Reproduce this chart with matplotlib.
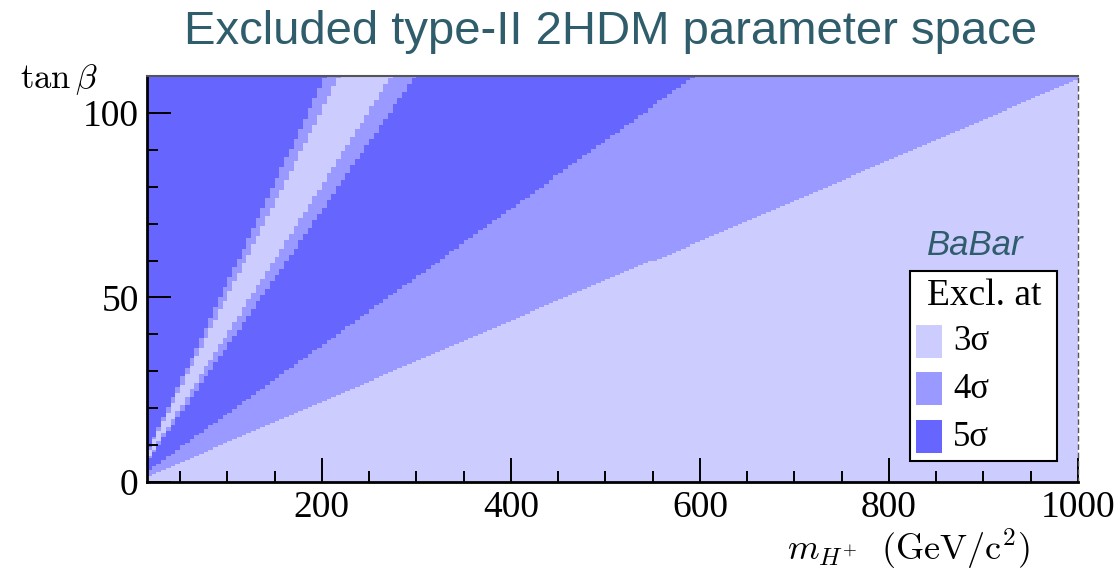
import numpy as np
import matplotlib.pyplot as plt
from matplotlib.colors import ListedColormap, BoundaryNorm
from matplotlib.patches import Rectangle

plt.rcParams['mathtext.fontset'] = 'cm'

# exclusion level as a function of tan(beta)/m_H+ (GeV^-1)
ratio_edges = [0.109, 0.185, 0.368, 0.402, 0.504, 0.540]
ratio_levels = [3, 4, 5, 4, 3, 4, 5]

# histogram binning of the scan
m_range = (15, 1000)
tanb_range = (0, 110)
n_mbins = 197
n_tbins = 200

sigma_levels = [3, 4, 5]
sigma_colors = ['#ccccff', '#9999ff', '#6666ff']
legend_labels = ['3σ', '4σ', '5σ']

W, H = 1118, 572
teal = '#2f5d6b'
serif = ['Liberation Serif', 'DejaVu Serif']

m_edges = np.linspace(m_range[0], m_range[1], n_mbins + 1)
t_edges = np.linspace(tanb_range[0], tanb_range[1], n_tbins + 1)
mc = 0.5 * (m_edges[1:] + m_edges[:-1])
tc = 0.5 * (t_edges[1:] + t_edges[:-1])
M, T = np.meshgrid(mc, tc)
Z = np.array(ratio_levels)[np.digitize(T / M, ratio_edges)]

fig = plt.figure(figsize=(W / 100, H / 100), dpi=100)
ax = fig.add_axes([147 / W, 1 - 482 / H, (1078 - 147) / W, (482 - 76) / H])

cmap = ListedColormap(sigma_colors)
norm = BoundaryNorm([2.5, 3.5, 4.5, 5.5], cmap.N)
ax.pcolormesh(m_edges, t_edges, Z, cmap=cmap, norm=norm, shading='flat')

ax.set_xlim(*m_range)
ax.set_ylim(*tanb_range)
ax.set_xticks([200, 400, 600, 800, 1000])
ax.set_xticks(np.arange(50, 1001, 50), minor=True)
ax.set_yticks([0, 50, 100])
ax.set_yticks(np.arange(0, 111, 10), minor=True)
ax.tick_params(which='both', direction='in', top=False, right=False,
               width=1.4, color='black')
ax.tick_params(which='major', length=17, pad=6)
ax.tick_params(which='minor', length=8)
for lab in ax.get_xticklabels() + ax.get_yticklabels():
    lab.set_family(serif)
    lab.set_fontsize(27)

for side in ['left', 'bottom']:
    ax.spines[side].set_linewidth(2)
    ax.spines[side].set_color('black')
ax.spines['top'].set_linewidth(1.5)
ax.spines['top'].set_color('#555555')
ax.spines['right'].set_linewidth(1)
ax.spines['right'].set_color('#555555')
ax.spines['right'].set_linestyle((0, (3, 3)))

fig.text(610 / W, 1 - 32 / H, 'Excluded type-II 2HDM parameter space',
         ha='center', va='center', fontsize=34, color=teal,
         family=['Liberation Sans', 'DejaVu Sans'])
fig.text(20 / W, 1 - 80 / H, r'$\tan\beta$', ha='left', va='center', fontsize=25)
fig.text(1030 / W, 1 - 549 / H, r'$m_{H^{+}}\ \ (\mathrm{GeV/c^{2}})$',
         ha='right', va='center', fontsize=26)

fig.text(975 / W, 1 - 246 / H, 'BaBar', ha='center', va='center', fontsize=25,
         color=teal, style='italic', family=['Liberation Sans', 'DejaVu Sans'])

# legend box
def fx(px):
    return px / W

def fy(py):
    return 1 - py / H

fig.add_artist(Rectangle((fx(910), fy(461)), fx(1057) - fx(910), fy(271) - fy(461),
                         transform=fig.transFigure, facecolor='white',
                         edgecolor='black', linewidth=1.5))
fig.text(fx(984), fy(296), 'Excl. at', ha='center', va='center',
         fontsize=27, family=serif)
box_tops = [325, 372, 420]
for top, col, lab in zip(box_tops, sigma_colors, legend_labels):
    fig.add_artist(Rectangle((fx(916), fy(top + 33)), fx(942) - fx(916), 33 / H,
                             transform=fig.transFigure, facecolor=col,
                             edgecolor='none'))
    fig.text(fx(953), fy(top + 17), lab, ha='left', va='center',
             fontsize=25, family=serif)

fig.savefig('out.png', dpi=100)
